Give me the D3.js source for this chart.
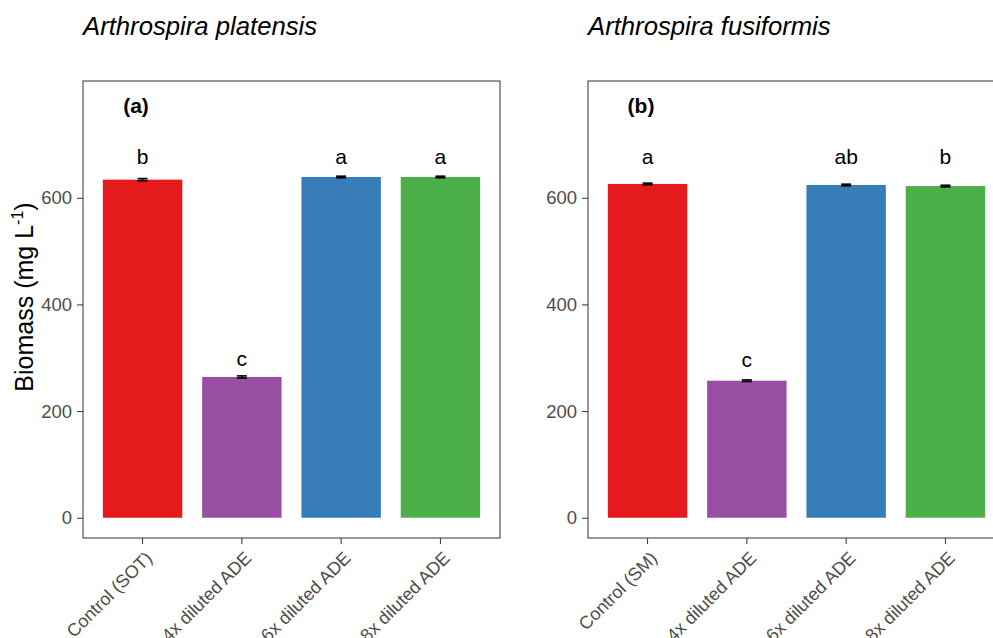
<!DOCTYPE html>
<html>
<head>
<meta charset="utf-8">
<script src="https://cdn.jsdelivr.net/npm/d3@7"></script>
<style>
  html, body { margin: 0; padding: 0; background: #fff; }
  svg { display: block; font-family: "Liberation Sans", Arial, Helvetica, sans-serif; }
</style>
</head>
<body>
<svg id="chart" width="993" height="638"></svg>
<script>
// Treatments shown on each panel
const treatmentsA = ["Control (SOT)", "4x diluted ADE", "6x diluted ADE", "8x diluted ADE"];
const treatmentsB = ["Control (SM)", "4x diluted ADE", "6x diluted ADE", "8x diluted ADE"];

// Mean biomass (mg/L) and standard deviations
const biomassA = [634, 264, 639, 639];
const errorA   = [2, 2, 1.5, 1.5];
const lettersA = ["b", "c", "a", "a"];
// height (mg/L) at which each significance letter sits
const letterHeightA = [664, 284, 664, 664];

const biomassB = [626, 257, 624, 622];
const errorB   = [1.5, 1.5, 1.5, 1.5];
const lettersB = ["a", "c", "ab", "b"];
const letterHeightB = [663, 283, 663, 663];

const yTicks = [0, 200, 400, 600];
const barColors = ["#E41A1C", "#984EA3", "#377EB8", "#4DAF4A"];

const svg = d3.select("#chart");
const plotTop = 81, plotBottom = 538, panelW = 417;

// y range includes ggplot-style expansion below 0 and headroom above
const y = d3.scaleLinear().domain([-38, 819]).range([plotBottom, plotTop]);

function panel(left, title, tag, cats, vals, errs, letters, letterY) {
  const g = svg.append("g");
  const x = d3.scaleBand().domain(cats).range([left, left + panelW])
    .paddingInner(0.2).paddingOuter(0.2);

  // species title
  g.append("text").attr("x", left).attr("y", 35)
    .attr("font-size", 25.7).attr("font-style", "italic").attr("fill", "#000")
    .text(title);

  // bars
  g.selectAll("rect.bar").data(vals).join("rect").attr("class", "bar")
    .attr("x", (d, i) => x(cats[i])).attr("width", x.bandwidth())
    .attr("y", d => y(d)).attr("height", d => y(0) - y(d))
    .attr("fill", (d, i) => barColors[i]);

  // error bars
  const cap = 10;
  vals.forEach((v, i) => {
    const cx = x(cats[i]) + x.bandwidth() / 2;
    const eg = g.append("g").attr("stroke", "#000").attr("stroke-width", 1.6);
    eg.append("line").attr("x1", cx).attr("x2", cx).attr("y1", y(v - errs[i])).attr("y2", y(v + errs[i]));
    eg.append("line").attr("x1", cx - cap / 2).attr("x2", cx + cap / 2).attr("y1", y(v + errs[i])).attr("y2", y(v + errs[i]));
    eg.append("line").attr("x1", cx - cap / 2).attr("x2", cx + cap / 2).attr("y1", y(v - errs[i])).attr("y2", y(v - errs[i]));
  });

  // significance letters
  g.selectAll("text.letter").data(letters).join("text").attr("class", "letter")
    .attr("x", (d, i) => x(cats[i]) + x.bandwidth() / 2)
    .attr("y", (d, i) => y(letterY[i]))
    .attr("text-anchor", "middle").attr("font-size", 21).attr("fill", "#000")
    .text(d => d);

  // panel tag
  g.append("text").attr("x", left + 53).attr("y", 113)
    .attr("text-anchor", "middle").attr("font-size", 21).attr("font-weight", "bold")
    .text(tag);

  // y axis
  const ya = g.append("g").attr("transform", `translate(${left},0)`)
    .call(d3.axisLeft(y).tickValues(yTicks).tickSize(6).tickPadding(5));
  ya.select(".domain").remove();
  ya.selectAll("line").attr("stroke", "#333").attr("stroke-width", 1);
  ya.selectAll("text").attr("font-size", 18.5).attr("fill", "#4d4d4d")
    .attr("font-family", "'Liberation Sans', Arial, sans-serif");

  // x axis ticks and rotated labels
  const xa = g.append("g").attr("transform", `translate(0,${plotBottom})`)
    .call(d3.axisBottom(x).tickSize(6).tickFormat(""));
  xa.select(".domain").remove();
  xa.selectAll("line").attr("stroke", "#333").attr("stroke-width", 1);
  g.selectAll("text.xlab").data(cats).join("text").attr("class", "xlab")
    .attr("transform", d => `translate(${x(d) + x.bandwidth() / 2 + 1.5},${plotBottom + 12}) rotate(-45)`)
    .attr("text-anchor", "end").attr("dy", "0.72em")
    .attr("font-size", 18).attr("fill", "#4d4d4d")
    .text(d => d);

  // panel border
  g.append("rect").attr("x", left).attr("y", plotTop)
    .attr("width", panelW).attr("height", plotBottom - plotTop)
    .attr("fill", "none").attr("stroke", "#333").attr("stroke-width", 1);
}

panel(83, "Arthrospira platensis", "(a)", treatmentsA, biomassA, errorA, lettersA, letterHeightA);
panel(588, "Arthrospira fusiformis", "(b)", treatmentsB, biomassB, errorB, lettersB, letterHeightB);

// shared y axis title
const yl = svg.append("text")
  .attr("transform", "translate(33,297) rotate(-90)")
  .attr("text-anchor", "middle").attr("font-size", 25).attr("fill", "#000");
yl.append("tspan").text("Biomass (mg L");
yl.append("tspan").attr("font-size", 16).attr("dy", -10).text("-1");
yl.append("tspan").attr("dy", 10).text(")");
</script>
</body>
</html>
